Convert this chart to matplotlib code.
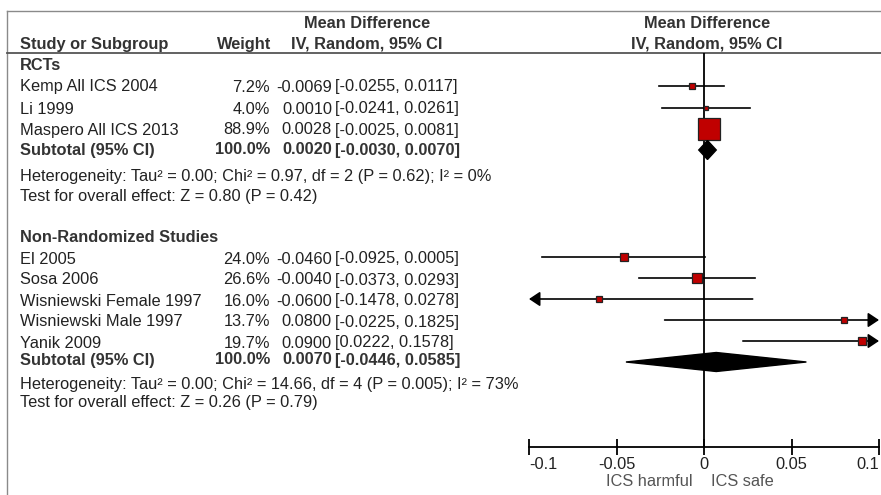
import matplotlib
matplotlib.use("Agg")
import matplotlib.pyplot as plt
from matplotlib.patches import Polygon

plt.rcParams['font.family'] = ['Liberation Sans', 'DejaVu Sans']

# ---------------- data ----------------
rct_names = ["Kemp All ICS 2004", "Li 1999", "Maspero All ICS 2013"]
rct_weights = [7.2, 4.0, 88.9]
rct_md = [-0.0069, 0.0010, 0.0028]
rct_lo = [-0.0255, -0.0241, -0.0025]
rct_hi = [0.0117, 0.0261, 0.0081]
rct_sub = [0.0020, -0.0030, 0.0070]
rct_sub_weight = 100.0
rct_het = "Heterogeneity: Tau\u00b2 = 0.00; Chi\u00b2 = 0.97, df = 2 (P = 0.62); I\u00b2 = 0%"
rct_test = "Test for overall effect: Z = 0.80 (P = 0.42)"

nrs_names = ["El 2005", "Sosa 2006", "Wisniewski Female 1997",
             "Wisniewski Male 1997", "Yanik 2009"]
nrs_weights = [24.0, 26.6, 16.0, 13.7, 19.7]
nrs_md = [-0.0460, -0.0040, -0.0600, 0.0800, 0.0900]
nrs_lo = [-0.0925, -0.0373, -0.1478, -0.0225, 0.0222]
nrs_hi = [0.0005, 0.0293, 0.0278, 0.1825, 0.1578]
nrs_sub = [0.0070, -0.0446, 0.0585]
nrs_sub_weight = 100.0
nrs_het = "Heterogeneity: Tau\u00b2 = 0.00; Chi\u00b2 = 14.66, df = 4 (P = 0.005); I\u00b2 = 73%"
nrs_test = "Test for overall effect: Z = 0.26 (P = 0.79)"

xticks = [-0.1, -0.05, 0, 0.05, 0.1]
xticklabels = ["-0.1", "-0.05", "0", "0.05", "0.1"]

# ---------------- layout ----------------
W, H = 881, 495
FS = 11.75
TXT = '#222222'
HDR = '#333333'
RED = '#c00000'

rct_rows = [86, 108, 129]
rct_sub_row = 150
nrs_rows = [257, 278, 299, 320, 341]
nrs_sub_row = 362

fig = plt.figure(figsize=(W / 100, H / 100), dpi=100)
bg = fig.add_axes([0, 0, 1, 1])
bg.set_xlim(0, W)
bg.set_ylim(H, 0)
bg.axis('off')

# frame lines
bg.plot([7, W], [11, 11], color='#8a8a8a', lw=1.0)
bg.plot([7, 7], [11, H], color='#8a8a8a', lw=1.0)
bg.plot([7, W], [53, 53], color='#555555', lw=1.3)

def t(x, y, s, ha='left', bold=False, color=None):
    bg.text(x, y, s, ha=ha, va='center', fontsize=FS,
            fontweight='bold' if bold else 'normal',
            color=color or (HDR if bold else TXT))

# headers
t(367, 24, "Mean Difference", ha='center', bold=True)
t(367, 44, "IV, Random, 95% CI", ha='center', bold=True)
t(707, 24, "Mean Difference", ha='center', bold=True)
t(707, 44, "IV, Random, 95% CI", ha='center', bold=True)
t(20, 44, "Study or Subgroup", bold=True)
t(271, 44, "Weight", ha='right', bold=True)

X_W, X_MD, X_CI = 270, 332, 335

def study_text(y, name, w, md, lo, hi, bold=False):
    t(20, y, name, bold=bold)
    t(X_W, y, f"{w:.1f}%", ha='right', bold=bold)
    t(X_MD, y, f"{md:.4f}", ha='right', bold=bold)
    t(X_CI, y, f"[{lo:.4f}, {hi:.4f}]", bold=bold)

# RCT section
t(20, 66, "RCTs", bold=True)
for y, n, w, m, lo, hi in zip(rct_rows, rct_names, rct_weights, rct_md, rct_lo, rct_hi):
    study_text(y + 1, n, w, m, lo, hi)
study_text(rct_sub_row, "Subtotal (95% CI)", rct_sub_weight,
           rct_sub[0], rct_sub[1], rct_sub[2], bold=True)
t(20, 176, rct_het)
t(20, 196, rct_test)

# NRS section
t(20, 238, "Non-Randomized Studies", bold=True)
for y, n, w, m, lo, hi in zip(nrs_rows, nrs_names, nrs_weights, nrs_md, nrs_lo, nrs_hi):
    study_text(y + 2, n, w, m, lo, hi)
study_text(nrs_sub_row - 2, "Subtotal (95% CI)", nrs_sub_weight,
           nrs_sub[0], nrs_sub[1], nrs_sub[2], bold=True)
t(20, 384, nrs_het)
t(20, 403, nrs_test)

# ---------------- forest axes ----------------
x0, x1 = 529, 879
ytop, ybot = 53, 447
ax = fig.add_axes([x0 / W, 1 - ybot / H, (x1 - x0) / W, (ybot - ytop) / H])
ax.set_xlim(-0.1, 0.1)
ax.set_ylim(ybot, ytop)
ax.patch.set_alpha(0)
for s in ['top', 'right', 'left']:
    ax.spines[s].set_visible(False)
ax.spines['bottom'].set_linewidth(1.3)
ax.set_yticks([])
ax.set_xticks(xticks)
ax.set_xticklabels(xticklabels)
ax.tick_params(axis='x', direction='inout', length=12, width=1.3, pad=1.5,
               labelsize=FS, labelcolor=TXT)
labs = ax.get_xticklabels()
labs[0].set_horizontalalignment('left')
labs[-1].set_horizontalalignment('right')
ax.axvline(0, color='black', lw=1.3, zorder=1)

def ci(y, lo, hi):
    lo_c, hi_c = max(lo, -0.1), min(hi, 0.1)
    style = '-|>,head_length=0.6,head_width=0.4'
    if lo < -0.1:
        ax.annotate('', xy=(-0.1, y), xytext=(hi_c, y), annotation_clip=False,
                    arrowprops=dict(arrowstyle=style, mutation_scale=11, color='black',
                                    lw=1.2, shrinkA=0, shrinkB=0))
    elif hi > 0.1:
        ax.annotate('', xy=(0.1, y), xytext=(lo_c, y), annotation_clip=False,
                    arrowprops=dict(arrowstyle=style, mutation_scale=11, color='black',
                                    lw=1.2, shrinkA=0, shrinkB=0))
    else:
        ax.plot([lo, hi], [y, y], color='black', lw=1.2, zorder=2)

def square(y, m, w):
    side_px = 3.5 + 0.21 * w
    ax.plot([m], [y], marker='s', markersize=side_px * 0.72, markerfacecolor=RED,
            markeredgecolor='#222222', markeredgewidth=0.9, zorder=3, clip_on=False)

def diamond(y, m, lo, hi, half=9.5):
    ax.add_patch(Polygon([[lo, y], [m, y - half], [hi, y], [m, y + half]],
                         closed=True, facecolor='black', edgecolor='black', zorder=3))

for y, w, m, lo, hi in zip(rct_rows, rct_weights, rct_md, rct_lo, rct_hi):
    ci(y, lo, hi)
    square(y, m, w)
diamond(rct_sub_row, *rct_sub)

for y, w, m, lo, hi in zip(nrs_rows, nrs_weights, nrs_md, nrs_lo, nrs_hi):
    ci(y, lo, hi)
    square(y, m, w)
diamond(nrs_sub_row, *nrs_sub)

# direction labels
bg.text(693, 481, "ICS harmful", ha='right', va='center', fontsize=FS, color='#555555')
bg.text(711, 481, "ICS safe", ha='left', va='center', fontsize=FS, color='#555555')

fig.savefig("out.png", dpi=100)
